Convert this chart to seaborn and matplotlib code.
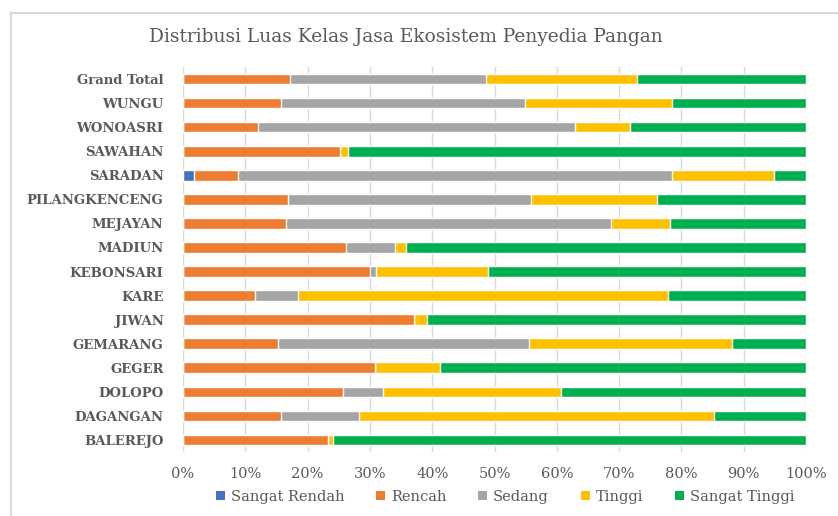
import numpy as np
import pandas as pd
import matplotlib
matplotlib.use("Agg")
import matplotlib.pyplot as plt
from matplotlib.lines import Line2D
from matplotlib.patches import Patch
import seaborn as sns

# Kecamatan (top to bottom) and share of area per ecosystem-service class (%)
kecamatan = ["Grand Total", "WUNGU", "WONOASRI", "SAWAHAN", "SARADAN",
             "PILANGKENCENG", "MEJAYAN", "MADIUN", "KEBONSARI", "KARE",
             "JIWAN", "GEMARANG", "GEGER", "DOLOPO", "DAGANGAN", "BALEREJO"]
sangat_rendah = [0.0, 0.0, 0.0, 0.0, 1.8, 0.0, 0.0, 0.0, 0.0, 0.0, 0.0, 0.0, 0.0, 0.0, 0.0, 0.0]
rencah        = [17.2, 15.7, 12.1, 25.2, 7.1, 16.8, 16.6, 26.2, 30.0, 11.6, 37.0, 15.3, 30.8, 25.7, 15.7, 23.2]
sedang        = [31.5, 39.2, 50.9, 0.0, 69.6, 39.1, 52.1, 7.8, 1.0, 6.9, 0.0, 40.3, 0.0, 6.4, 12.6, 0.0]
tinggi        = [24.2, 23.6, 8.7, 1.3, 16.4, 20.2, 9.5, 1.8, 17.9, 59.4, 2.1, 32.6, 10.4, 28.6, 56.9, 0.9]
sangat_tinggi = [27.1, 21.5, 28.3, 73.5, 5.1, 23.9, 21.8, 64.2, 51.1, 22.1, 60.9, 11.8, 58.8, 39.3, 14.8, 75.9]

classes = ["Sangat Rendah", "Rencah", "Sedang", "Tinggi", "Sangat Tinggi"]
colors = ["#4472C4", "#ED7D31", "#A5A5A5", "#FFC000", "#00B050"]

df = pd.DataFrame({
    "Kecamatan": kecamatan,
    "Sangat Rendah": sangat_rendah,
    "Rencah": rencah,
    "Sedang": sedang,
    "Tinggi": tinggi,
    "Sangat Tinggi": sangat_tinggi,
})
# normalise each row to 100 %
vals = df[classes].to_numpy(dtype=float)
vals = vals / vals.sum(axis=1, keepdims=True) * 100
cum = np.cumsum(vals, axis=1)

sns.set_theme(style="white")
plt.rcParams["font.family"] = ["DejaVu Serif"]

TXT = "#595959"
fig = plt.figure(figsize=(8.38, 5.16), dpi=100)
ax = fig.add_axes([183 / 838, 1 - 452 / 516, (806 - 183) / 838, (452 - 67) / 516])

# stacked bars: draw cumulative totals from the right-most class back to the first
for i in range(len(classes) - 1, -1, -1):
    layer = pd.DataFrame({"Kecamatan": kecamatan, "cum": cum[:, i]})
    sns.barplot(data=layer, x="cum", y="Kecamatan", orient="h", color=colors[i],
                width=0.44, saturation=1, ax=ax, zorder=3)

ax.set_xlim(0, 100)
ax.set_ylim(len(kecamatan) - 0.5, -0.5)
ax.set_xticks(np.arange(0, 101, 10))
ax.set_xticklabels([f"{v}%" for v in range(0, 101, 10)])
ax.xaxis.grid(True, color="#D9D9D9", linewidth=1, zorder=0)
ax.yaxis.grid(False)
ax.set_axisbelow(True)
for s in ax.spines.values():
    s.set_visible(False)
ax.set_xlabel("")
ax.set_ylabel("")
ax.tick_params(axis="x", colors=TXT, labelsize=10.5, length=0, pad=11)
ax.tick_params(axis="y", colors=TXT, labelsize=9.5, length=0, pad=14)
for lab in ax.get_yticklabels():
    lab.set_fontweight("bold")

fig.text(406 / 838, 1 - 37 / 516, "Distribusi Luas Kelas Jasa Ekosistem Penyedia Pangan",
         ha="center", va="center", fontsize=13.4, color=TXT)

handles = [Patch(facecolor=c, edgecolor="none") for c in colors]
fig.legend(handles, classes, loc="center", bbox_to_anchor=(505 / 838, 1 - 497 / 516),
           ncol=5, frameon=False, fontsize=10.5, labelcolor=TXT,
           handlelength=0.6, handleheight=0.6, handletextpad=0.4, columnspacing=2.2)

# chart-area border (top and left edges)
fig.add_artist(Line2D([11 / 838, 1.0], [1 - 13 / 516, 1 - 13 / 516],
                      transform=fig.transFigure, color="#D9D9D9", linewidth=1.5))
fig.add_artist(Line2D([11 / 838, 11 / 838], [0.0, 1 - 13 / 516],
                      transform=fig.transFigure, color="#D9D9D9", linewidth=1.5))

fig.savefig("out.png", dpi=100, facecolor="white")
